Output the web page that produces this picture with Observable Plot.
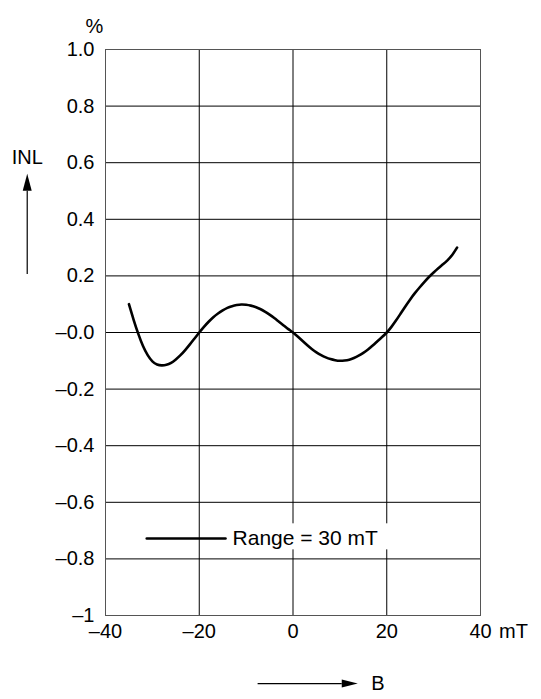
<!DOCTYPE html>
<html>
<head>
<meta charset="utf-8">
<script src="https://cdn.jsdelivr.net/npm/d3@7"></script>
<script src="https://cdn.jsdelivr.net/npm/@observablehq/plot@0.6"></script>
<style>
  html, body { margin: 0; padding: 0; background: #fff; }
  #chart { width: 541px; height: 699px; }
</style>
</head>
<body>
<div id="chart"></div>
<script>
// Curve: B (mT) vs INL (%)
const bValues = [-35,-34,-33,-32,-31,-30,-29,-28,-27,-26,-25,-24,-23,-22,-21,-20,-19,-18,-17,-16,-15,-14,-13,-12,-11,-10,-9,-8,-7,-6,-5,-4,-3,-2,-1,0,1,2,3,4,5,6,7,8,9,10,11,12,13,14,15,16,17,18,19,20,21,22,23,24,25,26,27,28,29,30,31,32,33,34,35];
const inlValues = [0.10,0.045,-0.005,-0.048,-0.08,-0.102,-0.113,-0.116,-0.114,-0.107,-0.095,-0.08,-0.062,-0.042,-0.021,0.0,0.02,0.038,0.054,0.067,0.078,0.087,0.093,0.097,0.099,0.098,0.095,0.09,0.083,0.074,0.063,0.051,0.038,0.025,0.012,0.0,-0.014,-0.029,-0.044,-0.058,-0.07,-0.08,-0.088,-0.094,-0.098,-0.1,-0.099,-0.096,-0.09,-0.082,-0.072,-0.06,-0.046,-0.031,-0.016,0.0,0.02,0.043,0.068,0.093,0.117,0.139,0.159,0.178,0.196,0.212,0.227,0.241,0.256,0.275,0.30];

// Axes
const xTicks = [-40, -20, 0, 20, 40];
const xTickLabels = ["\u201340", "\u201320", "0", "20", "40"];
const yTicks = [1, 0.8, 0.6, 0.4, 0.2, 0, -0.2, -0.4, -0.6, -0.8, -1];
const yTickLabels = ["1.0", "0.8", "0.6", "0.4", "0.2", "\u20130.0", "\u20130.2", "\u20130.4", "\u20130.6", "\u20130.8", "\u20131"];
const xUnit = "mT";
const yUnit = "%";
const yName = "INL";
const xName = "B";

// Legend
const legendLabel = "Range = 30 mT";
const legendLineX = [-31.2, -14.4];
const legendY = -0.728;
const legendTextX = -12.9;
const legendBoxX = [-14.0, 20.4];
const legendBoxY = [-0.676, -0.768];

// Axis-name arrows (in data units, outside the frame)
const yArrowX = -56.7;
const yArrowY = [0.207, 0.501];
const yNameY = 0.617;
const xArrowY = -1.2407;
const xArrowX = [-7.55, 10.4];
const xNameX = 18.1;

const curve = bValues.map((b, i) => ({b, inl: inlValues[i]}));
const xLabel = new Map(xTicks.map((t, i) => [t, xTickLabels[i]]));
const yLabel = new Map(yTicks.map((t, i) => [t, yTickLabels[i]]));

const head = (len, half) => ({
  draw(ctx) {
    ctx.moveTo(0, -len);
    ctx.lineTo(half, 0);
    ctx.lineTo(-half, 0);
    ctx.closePath();
  }
});

const font = "'Liberation Sans', Arial, Helvetica, sans-serif";

const chart = Plot.plot({
  width: 541,
  height: 699,
  marginLeft: 105,
  marginRight: 61,
  marginTop: 49,
  marginBottom: 84,
  style: {fontFamily: font, fontSize: "20px", color: "#000", background: "#fff"},
  x: {domain: [-40, 40]},
  y: {domain: [-1, 1]},
  marks: [
    Plot.gridX(xTicks.filter(t => t > -40 && t < 40), {stroke: "#000", strokeOpacity: 1, strokeWidth: 1}),
    Plot.gridY(yTicks.filter(t => t > -1 && t < 1), {stroke: "#000", strokeOpacity: 1, strokeWidth: 1}),
    Plot.frame({stroke: "#555", strokeWidth: 1}),
    Plot.axisX(xTicks, {tickSize: 0, tickPadding: 8, tickFormat: d => xLabel.get(d), fontSize: 20, label: null}),
    Plot.axisY(yTicks, {tickSize: 0, tickPadding: 11, tickFormat: d => yLabel.get(d), fontSize: 20, label: null}),
    Plot.text([xUnit], {x: 40, frameAnchor: "bottom", dx: 18.5, dy: 8, lineAnchor: "top", textAnchor: "start", fontSize: 20, text: d => d}),
    Plot.text([yUnit], {frameAnchor: "top-left", dx: -20, dy: -31, fontSize: 20, text: d => d}),
    // curve
    Plot.line(curve, {x: "b", y: "inl", stroke: "#000", strokeWidth: 2.6, curve: "natural"}),
    // legend
    Plot.rect([0], {x1: legendBoxX[0], x2: legendBoxX[1], y1: legendBoxY[0], y2: legendBoxY[1], fill: "#fff"}),
    Plot.line(legendLineX.map(x => ({x, y: legendY})), {x: "x", y: "y", stroke: "#000", strokeWidth: 2.6}),
    Plot.text([legendLabel], {x: legendTextX, y: legendY, textAnchor: "start", fontSize: 21, text: d => d}),
    // y name + arrow
    Plot.text([yName], {x: yArrowX, y: yNameY, fontSize: 20, text: d => d, clip: false}),
    Plot.link([0], {x1: yArrowX, x2: yArrowX, y1: yArrowY[0], y2: yArrowY[1], stroke: "#000", strokeWidth: 1.2}),
    Plot.dot([0], {x: yArrowX, y: yArrowY[1], symbol: head(17, 4.5), fill: "#000", stroke: "none"}),
    // x name + arrow
    Plot.text([xName], {x: xNameX, y: xArrowY, fontSize: 20, text: d => d}),
    Plot.link([0], {x1: xArrowX[0], x2: xArrowX[1], y1: xArrowY, y2: xArrowY, stroke: "#000", strokeWidth: 1.2}),
    Plot.dot([0], {x: xArrowX[1], y: xArrowY, symbol: head(16, 4), rotate: 90, fill: "#000", stroke: "none"})
  ]
});

document.getElementById("chart").appendChild(chart);
</script>
</body>
</html>
